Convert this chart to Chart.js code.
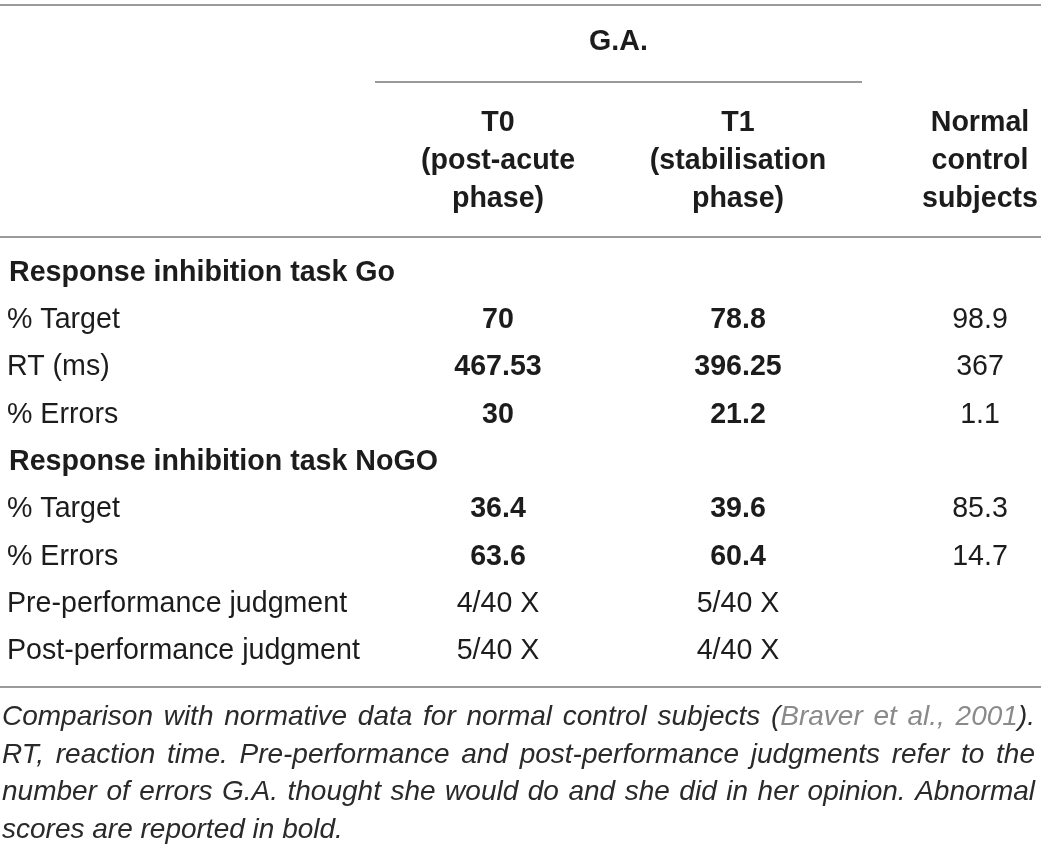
<!DOCTYPE html>
<html>
<head>
<meta charset="utf-8">
<script src="https://cdn.jsdelivr.net/npm/chart.js@4"></script>
<style>
  html, body { margin: 0; padding: 0; background: #fff; }
  canvas { display: block; }
</style>
</head>
<body>
<canvas id="chart" width="1041" height="848"></canvas>
<script>
// table data
var groupTitle = 'G.A.';
var columnHeads = [
  ['T0', '(post-acute', 'phase)'],
  ['T1', '(stabilisation', 'phase)'],
  ['Normal', 'control', 'subjects']
];
var sections = ['Response inhibition task Go', 'Response inhibition task NoGO'];
var sectionOfRow = [0, 0, 0, 1, 1, 1, 1];
var rowLabels = ['% Target', 'RT (ms)', '% Errors', '% Target', '% Errors', 'Pre-performance judgment', 'Post-performance judgment'];
var t0Values = ['70', '467.53', '30', '36.4', '63.6', '4/40 X', '5/40 X'];
var t1Values = ['78.8', '396.25', '21.2', '39.6', '60.4', '5/40 X', '4/40 X'];
var normalValues = ['98.9', '367', '1.1', '85.3', '14.7', '', ''];
var abnormalT0 = [true, true, true, true, true, false, false];
var abnormalT1 = [true, true, true, true, true, false, false];
var captionLines = [
  'Comparison with normative data for normal control subjects ([Braver et al., 2001]).',
  'RT, reaction time. Pre-performance and post-performance judgments refer to the',
  'number of errors G.A. thought she would do and she did in her opinion. Abnormal',
  'scores are reported in bold.'
];

// layout (pixel-like units on the hidden linear scales)
var W = 1041, H = 848;
var labelX = 7, sectionX = 9;
var colX = [498, 738, 980];
var firstRowY = 273, rowStep = 47.3;
var FONT = '"Liberation Sans", Arial, sans-serif';
var SIZE = 28.6;
var CAPTION_SIZE = 28;
var INK = '#1c1c1c';
var RULE = '#9a9a9a';

// each body line: section heading or data row
var rowY = [];
var sectionY = [];
(function () {
  var k = 0, last = -1;
  for (var r = 0; r < rowLabels.length; r++) {
    if (sectionOfRow[r] !== last) {
      sectionY.push(firstRowY + k * rowStep);
      last = sectionOfRow[r];
      k++;
    }
    rowY.push(firstRowY + k * rowStep);
    k++;
  }
})();

function cells(x, values) {
  return values.map(function (v, i) { return { x: x, y: rowY[i] }; });
}

var datasets = [
  { label: 'labels', data: cells(labelX, rowLabels), texts: rowLabels, align: 'left', bold: rowLabels.map(function () { return false; }) },
  { label: 'T0', data: cells(colX[0], t0Values), texts: t0Values, align: 'center', bold: abnormalT0 },
  { label: 'T1', data: cells(colX[1], t1Values), texts: t1Values, align: 'center', bold: abnormalT1 },
  { label: 'Normal', data: cells(colX[2], normalValues), texts: normalValues, align: 'center', bold: normalValues.map(function () { return false; }) }
];
datasets.forEach(function (d) { d.pointRadius = 0; d.pointHoverRadius = 0; });

function hline(chart, x0, x1, y) {
  var ctx = chart.ctx, sx = chart.scales.x, sy = chart.scales.y;
  ctx.save();
  ctx.strokeStyle = RULE;
  ctx.lineWidth = 2;
  ctx.beginPath();
  ctx.moveTo(sx.getPixelForValue(x0), sy.getPixelForValue(y));
  ctx.lineTo(sx.getPixelForValue(x1), sy.getPixelForValue(y));
  ctx.stroke();
  ctx.restore();
}

function text(chart, s, x, y, align, weight) {
  var ctx = chart.ctx;
  ctx.save();
  ctx.font = (weight || 'normal') + ' ' + SIZE + 'px ' + FONT;
  ctx.fillStyle = INK;
  ctx.textAlign = align || 'left';
  ctx.textBaseline = 'middle';
  ctx.fillText(s, chart.scales.x.getPixelForValue(x), chart.scales.y.getPixelForValue(y));
  ctx.restore();
}

// split caption into words made of coloured pieces; [..] marks the citation
function captionWords(line) {
  var words = [], cur = [], piece = '', cite = false;
  function flushPiece() { if (piece) { cur.push({ s: piece, c: cite ? '#8a8a8a' : '#2a2a2a' }); piece = ''; } }
  for (var i = 0; i < line.length; i++) {
    var ch = line[i];
    if (ch === '[' || ch === ']') { flushPiece(); cite = ch === '['; continue; }
    if (ch === ' ') { flushPiece(); if (cur.length) words.push(cur); cur = []; continue; }
    piece += ch;
  }
  flushPiece();
  if (cur.length) words.push(cur);
  return words;
}

var tablePlugin = {
  id: 'tablePlugin',
  afterDatasetsDraw: function (chart) {
    var ctx = chart.ctx;
    // rules
    hline(chart, 0, W, 5);
    hline(chart, 375, 862, 82);
    hline(chart, 0, W, 237);
    hline(chart, 0, W, 687);

    // header
    text(chart, groupTitle, (375 + 862) / 2, 42, 'center', 'bold');
    columnHeads.forEach(function (lines, c) {
      lines.forEach(function (s, i) {
        text(chart, s, colX[c], 123 + i * 38, 'center', 'bold');
      });
    });

    // sections
    sections.forEach(function (s, i) {
      text(chart, s, sectionX, sectionY[i], 'left', 'bold');
    });

    // cells, placed by the dataset points
    chart.data.datasets.forEach(function (ds, di) {
      var meta = chart.getDatasetMeta(di);
      meta.data.forEach(function (pt, j) {
        var s = ds.texts[j];
        if (!s) return;
        ctx.save();
        ctx.font = (ds.bold[j] ? 'bold ' : 'normal ') + SIZE + 'px ' + FONT;
        ctx.fillStyle = INK;
        ctx.textAlign = ds.align;
        ctx.textBaseline = 'middle';
        ctx.fillText(s, pt.x, pt.y);
        ctx.restore();
      });
    });

    // caption, justified
    var left = chart.scales.x.getPixelForValue(2);
    var right = chart.scales.x.getPixelForValue(1035);
    ctx.save();
    ctx.font = 'italic normal ' + CAPTION_SIZE + 'px ' + FONT;
    ctx.textBaseline = 'alphabetic';
    ctx.textAlign = 'left';
    captionLines.forEach(function (line, li) {
      var words = captionWords(line);
      var widths = words.map(function (w) {
        return w.reduce(function (a, p) { return a + ctx.measureText(p.s).width; }, 0);
      });
      var total = widths.reduce(function (a, b) { return a + b; }, 0);
      var last = li === captionLines.length - 1;
      var gap = last ? ctx.measureText(' ').width : (right - left - total) / (words.length - 1);
      var y = chart.scales.y.getPixelForValue(725 + li * 37.5);
      var x = left;
      words.forEach(function (w) {
        w.forEach(function (p) {
          ctx.fillStyle = p.c;
          ctx.fillText(p.s, x, y);
          x += ctx.measureText(p.s).width;
        });
        x += gap;
      });
    });
    ctx.restore();
  }
};

var ctx = document.getElementById('chart').getContext('2d');
var tableChart = new Chart(ctx, {
  type: 'scatter',
  data: { datasets: datasets },
  options: {
    responsive: false,
    animation: false,
    events: [],
    layout: { padding: 0 },
    scales: {
      x: { type: 'linear', min: 0, max: W, display: false },
      y: { type: 'linear', min: 0, max: H, reverse: true, display: false }
    },
    plugins: {
      legend: { display: false },
      tooltip: { enabled: false }
    }
  },
  plugins: [tablePlugin]
});
</script>
</body>
</html>
